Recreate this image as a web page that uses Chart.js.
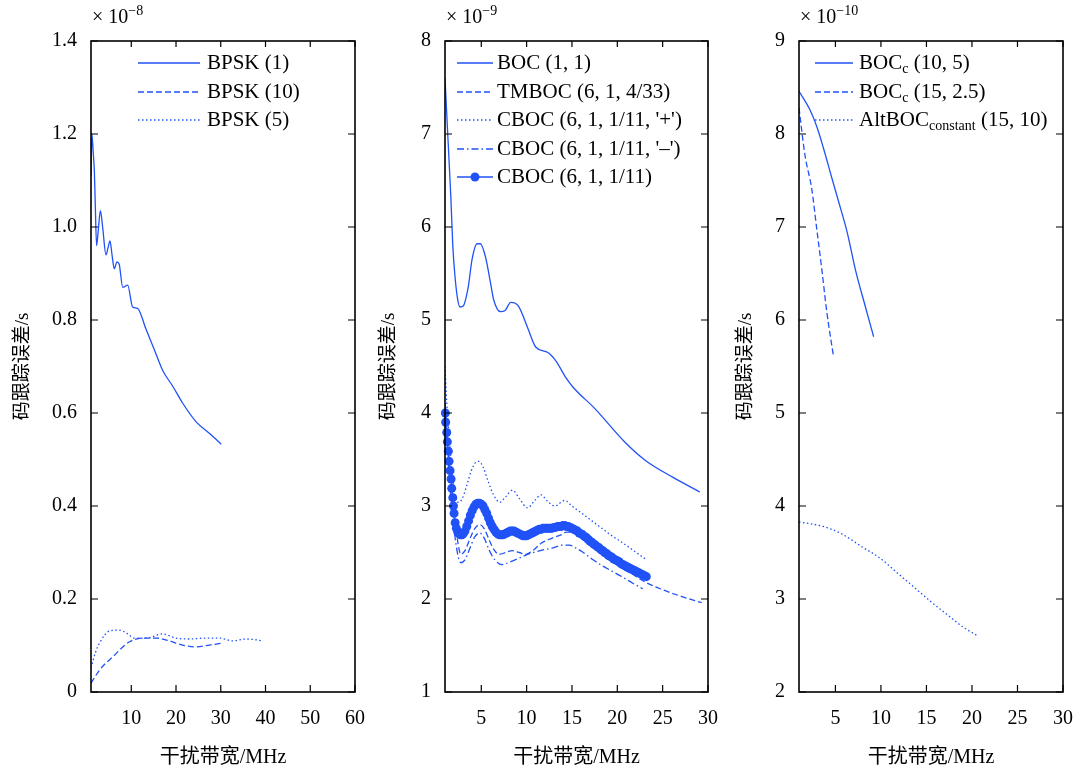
<!DOCTYPE html>
<html>
<head>
<meta charset="utf-8">
<script src="https://cdn.jsdelivr.net/npm/chart.js@4.4.1/dist/chart.umd.min.js"></script>
<style>
  html, body { margin: 0; background: #fff; overflow: hidden; }
  #wrap { position: relative; width: 1076px; height: 772px; overflow: hidden; }
  canvas { position: absolute; top: 0; }
</style>
</head>
<body>
<div id="wrap">
  <canvas id="c1" width="380" height="772" style="left:0"></canvas>
  <canvas id="c2" width="361" height="772" style="left:372px"></canvas>
  <canvas id="c3" width="361" height="772" style="left:727px"></canvas>
</div>
<script>
// --- data (x = 干扰带宽 MHz, y = 码跟踪误差 in units of the axis exponent) ---

// panel 1 (x 1e-8)
const bpsk1X = [1, 1.2, 1.5, 1.75, 1.95, 2.25, 2.6, 3.1, 3.6, 4.35, 4.8, 5.25, 5.7, 6.2, 6.8, 7.3, 8.1, 9.2, 10.3, 11.4, 13.3, 15.2, 17.0, 19.3, 21.5, 24.5, 27.5, 30.1];
const bpsk1Y = [1.11, 1.20, 1.16, 1.12, 1.05, 0.96, 0.99, 1.035, 1.0, 0.94, 0.955, 0.97, 0.94, 0.91, 0.925, 0.92, 0.87, 0.875, 0.828, 0.825, 0.78, 0.735, 0.692, 0.657, 0.621, 0.581, 0.556, 0.533];
const bpsk10X = [1, 2.9, 4.3, 5.8, 7.7, 9.6, 12.5, 15.6, 18.5, 21.4, 24.5, 27.5, 30.2];
const bpsk10Y = [0.019, 0.047, 0.062, 0.075, 0.093, 0.108, 0.116, 0.116, 0.11, 0.101, 0.097, 0.101, 0.105];
const bpsk5X = [1, 2.0, 2.9, 5.1, 7.3, 8.9, 10.7, 13.4, 17, 20, 23, 26.8, 29.7, 32.6, 35.7, 39.5];
const bpsk5Y = [0.052, 0.085, 0.105, 0.131, 0.133, 0.127, 0.116, 0.116, 0.125, 0.116, 0.114, 0.116, 0.116, 0.11, 0.114, 0.11];

// panel 2 (x 1e-9)
const boc11X = [1, 1.3, 1.64, 1.86, 2.1, 2.4, 2.67, 3.0, 3.57, 3.98, 4.54, 4.9, 5.46, 6.0, 6.36, 7.1, 7.6, 8.25, 9.1, 10.1, 11.0, 12.35, 13.3, 14.2, 15.1, 17.5, 20.9, 23.1, 26.1, 29.1];
const boc11Y = [7.6, 7.0, 6.33, 5.8, 5.47, 5.22, 5.14, 5.15, 5.36, 5.65, 5.82, 5.82, 5.68, 5.41, 5.22, 5.09, 5.10, 5.19, 5.15, 4.92, 4.71, 4.65, 4.55, 4.40, 4.28, 4.05, 3.68, 3.49, 3.31, 3.15];
const tmbocX = [1, 1.3, 1.6, 2.0, 2.4, 2.75, 3.2, 3.8, 4.3, 4.83, 5.3, 5.9, 6.4, 6.95, 7.7, 8.44, 9.2, 9.9, 10.8, 11.6, 12.7, 13.8, 14.4, 15.2, 16.1, 17.2, 18.3, 19.4, 20.5, 21.8, 23.1, 25.0, 27.0, 29.3];
const tmbocY = [4.1, 3.7, 3.35, 2.95, 2.62, 2.48, 2.52, 2.66, 2.76, 2.80, 2.76, 2.63, 2.53, 2.48, 2.50, 2.52, 2.50, 2.48, 2.53, 2.60, 2.65, 2.69, 2.72, 2.71, 2.66, 2.57, 2.48, 2.41, 2.33, 2.26, 2.18, 2.10, 2.03, 1.96];
const cbocPlusX = [1, 1.2, 1.5, 1.8, 2.1, 2.48, 2.9, 3.4, 3.9, 4.3, 4.72, 5.2, 5.7, 6.3, 7.06, 7.7, 8.44, 9.2, 10.1, 10.9, 11.6, 12.3, 13.1, 14.2, 15.0, 16.1, 17.2, 18.3, 19.4, 20.5, 21.8, 23.1];
const cbocPlusY = [4.5, 4.1, 3.7, 3.35, 3.12, 3.04, 3.08, 3.22, 3.38, 3.46, 3.48, 3.42, 3.28, 3.13, 3.04, 3.10, 3.17, 3.08, 2.98, 3.06, 3.12, 3.05, 3.0, 3.06, 3.0, 2.92, 2.84, 2.76, 2.68, 2.61, 2.52, 2.43];
const cbocMinusX = [1, 1.3, 1.6, 2.0, 2.4, 2.75, 3.2, 3.8, 4.3, 4.83, 5.3, 5.9, 6.5, 7.3, 8.2, 9.2, 10.1, 11.5, 12.9, 14.0, 14.7, 15.4, 16.1, 17.2, 18.3, 19.4, 20.5, 21.7, 22.8];
const cbocMinusY = [3.95, 3.55, 3.15, 2.75, 2.48, 2.39, 2.42, 2.56, 2.67, 2.71, 2.66, 2.52, 2.42, 2.37, 2.40, 2.44, 2.48, 2.52, 2.55, 2.58, 2.58, 2.55, 2.51, 2.43, 2.36, 2.30, 2.24, 2.17, 2.11];
const cbocX = [1.04, 1.07, 1.19, 1.26, 1.37, 1.45, 1.56, 1.67, 1.74, 1.86, 1.93, 2.0, 2.12, 2.25, 2.4, 2.55, 2.7, 2.86,
  3.0, 3.2, 3.4, 3.6, 3.8, 4.0, 4.2, 4.4, 4.6, 4.8, 5.0, 5.2, 5.4, 5.6, 5.8, 6.0, 6.2, 6.4, 6.6, 6.8,
  7.0, 7.2, 7.4, 7.6, 7.8, 8.0, 8.2, 8.4, 8.6, 8.8, 9.0, 9.2, 9.4, 9.6, 9.8, 10.0, 10.2, 10.4, 10.6, 10.8,
  11.0, 11.2, 11.4, 11.6, 11.8, 12.0, 12.2, 12.4, 12.6, 12.8, 13.0, 13.2, 13.4, 13.6, 13.8, 14.0, 14.2, 14.4, 14.6, 14.8,
  15.0, 15.2, 15.4, 15.6, 15.8, 16.0, 16.2, 16.4, 16.6, 16.8, 17.0, 17.2, 17.4, 17.6, 17.8, 18.0, 18.2, 18.4, 18.6, 18.8,
  19.0, 19.2, 19.4, 19.6, 19.8, 20.0, 20.2, 20.4, 20.6, 20.8, 21.0, 21.2, 21.4, 21.6, 21.8, 22.0, 22.2, 22.4, 22.6, 22.8, 23.0, 23.2];
const cbocY = [4.0, 3.9, 3.79, 3.69, 3.59, 3.48, 3.38, 3.29, 3.19, 3.09, 3.0, 2.92, 2.82, 2.76, 2.72, 2.70, 2.69, 2.69,
  2.70, 2.73, 2.78, 2.84, 2.90, 2.95, 2.99, 3.02, 3.03, 3.03, 3.02, 3.0, 2.96, 2.92, 2.87, 2.82, 2.78, 2.75, 2.72, 2.70,
  2.69, 2.69, 2.69, 2.70, 2.71, 2.72, 2.73, 2.73, 2.73, 2.72, 2.71, 2.70, 2.69, 2.68, 2.68, 2.68, 2.69, 2.70, 2.71, 2.72,
  2.73, 2.74, 2.75, 2.75, 2.76, 2.76, 2.76, 2.76, 2.76, 2.76, 2.77, 2.77, 2.78, 2.78, 2.78, 2.79, 2.79, 2.78, 2.78, 2.77,
  2.76, 2.75, 2.74, 2.73, 2.71, 2.70, 2.69, 2.67, 2.66, 2.64, 2.62, 2.61, 2.59, 2.58, 2.56, 2.55, 2.53, 2.52, 2.50, 2.49,
  2.47, 2.46, 2.45, 2.43, 2.42, 2.41, 2.40, 2.38, 2.37, 2.36, 2.35, 2.34, 2.33, 2.32, 2.31, 2.30, 2.29, 2.28, 2.27, 2.26, 2.25, 2.24];

// panel 3 (x 1e-10)
const bocc105X = [1, 2.2, 2.95, 3.65, 4.6, 5.3, 6.3, 7.2, 8.3, 9.2];
const bocc105Y = [8.46, 8.26, 8.08, 7.86, 7.53, 7.29, 6.94, 6.54, 6.14, 5.82];
const bocc1525X = [1, 1.66, 2.4, 2.95, 3.5, 4.05, 4.8];
const bocc1525Y = [8.28, 7.77, 7.41, 6.98, 6.55, 6.09, 5.6];
const altbocX = [1, 3.65, 5.5, 8.1, 9.9, 11.8, 13.6, 15.5, 17.3, 19.0, 20.5];
const altbocY = [3.83, 3.78, 3.71, 3.55, 3.44, 3.28, 3.13, 2.97, 2.83, 2.70, 2.61];

// ticks
const xTicks1 = [10, 20, 30, 40, 50, 60];
const xTicks23 = [5, 10, 15, 20, 25, 30];
const yTicks1 = [0, 0.2, 0.4, 0.6, 0.8, 1.0, 1.2, 1.4];
const yLabels1 = ['0', '0.2', '0.4', '0.6', '0.8', '1.0', '1.2', '1.4'];
const yTicks2 = [1, 2, 3, 4, 5, 6, 7, 8];
const yTicks3 = [2, 3, 4, 5, 6, 7, 8, 9];

const BLUE = '#2152f7';
const FAMILY = "'Liberation Serif', 'Noto Sans CJK SC', serif";
const DASH = [6, 3], DOT = [1.5, 2.5], DASHDOT = [7, 3, 1.5, 3];

Chart.defaults.font.family = FAMILY;
Chart.defaults.color = '#000';

function series(label, xs, ys, dash, extra) {
  return Object.assign({
    label: label,
    data: xs.map((x, i) => ({ x: x, y: ys[i] })),
    borderColor: BLUE,
    backgroundColor: BLUE,
    borderWidth: 1.3,
    borderDash: dash,
    pointRadius: 0,
    cubicInterpolationMode: 'monotone',
    fill: false
  }, extra || {});
}

// text with _{sub} markup
function drawRich(ctx, str, x, y) {
  const parts = str.split(/_\{([^}]*)\}/);
  parts.forEach((p, i) => {
    if (!p) return;
    const sub = i % 2 === 1;
    ctx.font = (sub ? '14px ' : '21px ') + FAMILY;
    ctx.fillText(p, x, sub ? y + 6 : y);
    x += ctx.measureText(p).width;
  });
}

// inner ticks, box frame, exponent label and legend
const deco = {
  id: 'deco',
  afterDraw(chart, args, opts) {
    const { ctx, chartArea: a, scales: { x, y } } = chart;
    ctx.save();
    ctx.strokeStyle = '#000';
    ctx.lineWidth = 1.2;
    ctx.setLineDash([]);
    ctx.beginPath();
    x.ticks.forEach(t => {
      const px = x.getPixelForValue(t.value);
      ctx.moveTo(px, a.bottom); ctx.lineTo(px, a.bottom - 7);
      ctx.moveTo(px, a.top); ctx.lineTo(px, a.top + 6);
    });
    y.ticks.forEach(t => {
      const py = y.getPixelForValue(t.value);
      ctx.moveTo(a.left, py); ctx.lineTo(a.left + 7, py);
      ctx.moveTo(a.right, py); ctx.lineTo(a.right - 7, py);
    });
    ctx.stroke();
    ctx.lineWidth = 1.6;
    ctx.strokeRect(a.left, a.top, a.width, a.height);

    // exponent
    ctx.fillStyle = '#000';
    ctx.textBaseline = 'middle';
    ctx.textAlign = 'left';
    ctx.font = '20px ' + FAMILY;
    const base = '× 10';
    ctx.fillText(base, a.left + 1, 18);
    const w = ctx.measureText(base).width;
    ctx.font = '14px ' + FAMILY;
    ctx.fillText(opts.exp, a.left + 1 + w, 11);

    // legend
    chart.data.datasets.forEach((ds, i) => {
      const ly = Math.round(a.top + 22 + i * 28.5);
      const x0 = a.left + opts.lx, x1 = x0 + opts.len;
      ctx.strokeStyle = BLUE;
      ctx.lineWidth = 1.6;
      ctx.setLineDash(ds.borderDash || []);
      ctx.beginPath();
      ctx.moveTo(x0, ly); ctx.lineTo(x1, ly);
      ctx.stroke();
      if (ds.pointRadius > 0) {
        ctx.fillStyle = BLUE;
        ctx.beginPath();
        ctx.arc((x0 + x1) / 2, ly, ds.pointRadius, 0, Math.PI * 2);
        ctx.fill();
      }
      ctx.fillStyle = '#000';
      drawRich(ctx, ds.label, x1 + opts.gap, ly);
    });
    ctx.restore();
  }
};

function makeChart(id, cfg) {
  return new Chart(document.getElementById(id), {
    type: 'line',
    data: { datasets: cfg.datasets },
    plugins: [deco],
    options: {
      responsive: false,
      animation: false,
      devicePixelRatio: 1,
      // the x scale reserves 25px on the right for its last label, so the canvases overlap a little
      layout: { padding: { top: 41, right: 25, left: 0, bottom: 0 } },
      plugins: {
        legend: { display: false },
        tooltip: { enabled: false },
        deco: { exp: cfg.exp, lx: cfg.lx, len: cfg.len, gap: cfg.gap }
      },
      scales: {
        x: {
          type: 'linear',
          min: 1,
          max: cfg.xMax,
          grid: { display: false, drawTicks: false },
          border: { display: false },
          afterBuildTicks: s => { s.ticks = cfg.xTicks.map(v => ({ value: v })); },
          afterFit: s => { s.height = 80; },
          ticks: { font: { size: 20 }, color: '#000', padding: 15, maxRotation: 0, autoSkip: false },
          title: { display: true, text: '干扰带宽/MHz', font: { size: 20 }, color: '#000', padding: { top: 0, bottom: 2 } }
        },
        y: {
          type: 'linear',
          min: cfg.yTicks[0],
          max: cfg.yTicks[cfg.yTicks.length - 1],
          grid: { display: false, drawTicks: false },
          border: { display: false },
          afterBuildTicks: s => { s.ticks = cfg.yTicks.map(v => ({ value: v })); },
          afterFit: s => { s.width = cfg.yWidth; },
          ticks: {
            font: { size: 20 }, color: '#000', padding: 14, autoSkip: false,
            callback: (v, i) => cfg.yLabels ? cfg.yLabels[i] : String(v)
          },
          title: { display: true, text: '码跟踪误差/s', font: { size: 19 }, color: '#000', padding: { top: cfg.titlePad, bottom: 0 } }
        }
      }
    }
  });
}

makeChart('c1', {
  datasets: [
    series('BPSK (1)', bpsk1X, bpsk1Y, []),
    series('BPSK (10)', bpsk10X, bpsk10Y, DASH),
    series('BPSK (5)', bpsk5X, bpsk5Y, DOT)
  ],
  xMax: 60, xTicks: xTicks1, yTicks: yTicks1, yLabels: yLabels1,
  yWidth: 91, titlePad: 12, exp: '−8', lx: 47, len: 62, gap: 7
});

makeChart('c2', {
  datasets: [
    series('BOC (1, 1)', boc11X, boc11Y, []),
    series('TMBOC (6, 1, 4/33)', tmbocX, tmbocY, DASH),
    series("CBOC (6, 1, 1/11, '+')", cbocPlusX, cbocPlusY, DOT),
    series("CBOC (6, 1, 1/11, '–')", cbocMinusX, cbocMinusY, DASHDOT),
    series('CBOC (6, 1, 1/11)', cbocX, cbocY, [], {
      pointRadius: 4.5, pointBorderWidth: 0, pointBackgroundColor: BLUE, borderWidth: 1.5, clip: false
    })
  ],
  xMax: 30, xTicks: xTicks23, yTicks: yTicks2,
  yWidth: 73, titlePad: 6, exp: '−9', lx: 12, len: 36, gap: 4
});

makeChart('c3', {
  datasets: [
    series('BOC_{c} (10, 5)', bocc105X, bocc105Y, []),
    series('BOC_{c} (15, 2.5)', bocc1525X, bocc1525Y, DASH),
    series('AltBOC_{constant} (15, 10)', altbocX, altbocY, DOT)
  ],
  xMax: 30, xTicks: xTicks23, yTicks: yTicks3,
  yWidth: 72, titlePad: 8, exp: '−10', lx: 16, len: 38, gap: 6
});
</script>
</body>
</html>
